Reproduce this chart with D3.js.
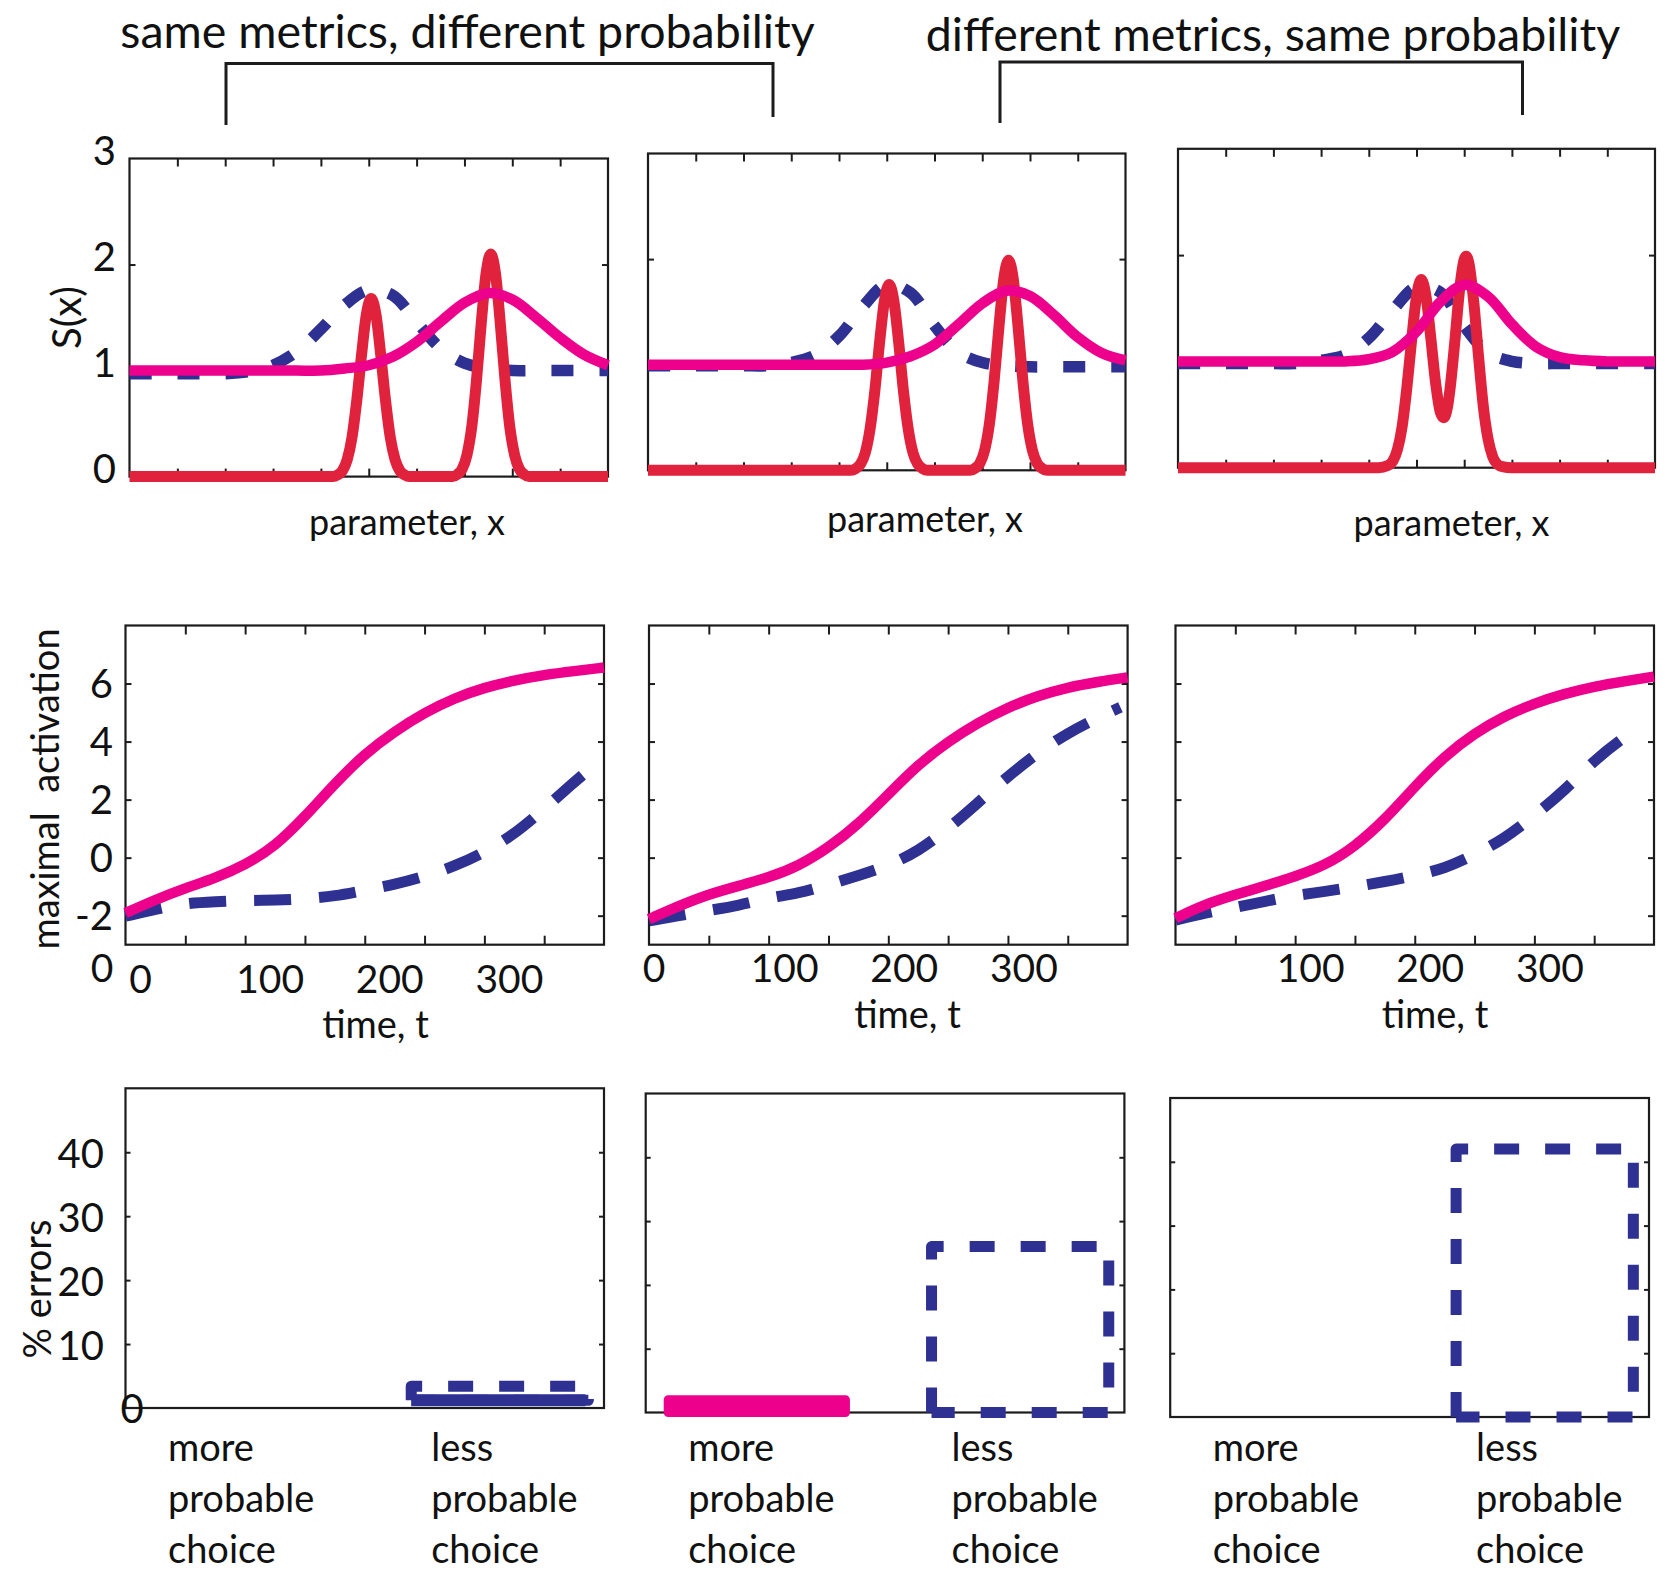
<!DOCTYPE html>
<html><head><meta charset="utf-8">
<script src="https://cdn.jsdelivr.net/npm/d3@7"></script>
<style>
html,body{margin:0;padding:0;background:#fff;}
svg text{font-family:Lato,"Open Sans",sans-serif;fill:#111;white-space:pre;}
</style></head><body>
<svg id="chart" width="1668" height="1570"></svg>
<script>
// ---------------- DATA ----------------
const titles = ["same metrics, different probability", "different metrics, same probability"];

// Row 1: S(x) over parameter x (0..100)
const paramX = [0,5,10,15,20,25,30,35,40,45,50,55,60,65,70,75,80,85,90,95,100];
const pinkA = [1.0,1.0,1.0,1.0,1.0,1.0,1.0,1.0,1.0,1.02,1.05,1.13,1.27,1.46,1.64,1.73,1.67,1.50,1.31,1.15,1.05];
const blueA = [0.97,0.97,0.97,0.97,0.97,0.99,1.05,1.18,1.39,1.62,1.76,1.71,1.46,1.21,1.07,1.02,1.0,1.0,1.0,1.0,1.0];
const pinkB = [1.0,1.0,1.0,1.0,1.0,1.0,1.0,1.0,1.0,1.0,1.02,1.08,1.19,1.38,1.58,1.70,1.65,1.47,1.26,1.11,1.04];
const blueB = [0.99,0.99,0.99,0.99,0.99,0.99,1.02,1.09,1.27,1.55,1.76,1.68,1.37,1.12,1.02,0.99,0.98,0.98,0.98,0.98,0.98];
const pinkC = [1.0,1.0,1.0,1.0,1.0,1.0,1.0,1.0,1.02,1.09,1.28,1.56,1.72,1.61,1.35,1.14,1.04,1.01,1.0,1.0,1.0];
const blueC = [0.98,0.98,0.98,0.98,0.98,0.98,1.01,1.06,1.22,1.48,1.70,1.65,1.33,1.08,1.0,0.98,0.98,0.98,0.98,0.98,0.98];

const redXAB = [0,10,20,30,40,42.5,43.5,44.5,45.5,46.5,47.5,48.5,49.5,50.5,51.5,52.5,53.5,54.5,55.5,56.5,57.5,58.5,63,
                67.5,68.5,69.5,70.5,71.5,72.5,73.5,74.5,75.5,76.5,77.5,78.5,79.5,80.5,81.5,82.5,83.5,90,100];
const redA = [0,0,0,0,0,0,0.016,0.055,0.16,0.37,0.72,1.15,1.53,1.68,1.53,1.15,0.72,0.37,0.16,0.055,0.016,0,0,
              0,0.02,0.07,0.20,0.46,0.90,1.44,1.91,2.10,1.91,1.44,0.90,0.46,0.20,0.07,0.02,0,0,0];
const redB = [0,0,0,0,0,0,0.017,0.058,0.165,0.39,0.75,1.21,1.60,1.76,1.60,1.21,0.75,0.39,0.165,0.058,0.017,0,0,
              0,0.019,0.066,0.19,0.44,0.85,1.36,1.81,1.99,1.81,1.36,0.85,0.44,0.19,0.066,0.019,0,0,0];
const redXC = [0,10,20,30,40,42,44,45,46,47,48,49,50,51,52,53,54,55,55.7,56.5,57,58,59,60,60.4,61,62,63,64,65,66,67,68,70,80,90,100];
const redC = [0,0,0,0,0,0,0.02,0.06,0.17,0.39,0.76,1.21,1.61,1.77,1.61,1.22,0.80,0.52,0.47,0.57,0.73,1.17,1.66,1.96,1.99,1.92,1.56,1.05,0.58,0.27,0.10,0.03,0.01,0,0,0,0];

const paramYTicks = [0,1,2,3];
const paramYLabels = ["0","1","2","3"];
const paramXTicks = [10,20,30,40,50,60,70,80,90];

// Row 2: maximal activation over time t (0..400)
const timeT  = [0,25,50,75,100,125,150,175,200,225,250,275,300,325,350,375,400];
const blueTD = [0,25,50,75,100,125,150,175,200,225,250,275,300,325,350,375,388];
const blueTE = [0,25,50,75,100,125,150,175,200,225,250,275,300,325,350,375,394];
const blueTF = [0,25,50,75,100,125,150,175,200,225,250,275,300,325,350,375,388];
const pinkD = [-1.91,-1.45,-1.05,-0.71,-0.25,0.38,1.41,2.55,3.58,4.35,5.0,5.5,5.86,6.11,6.3,6.43,6.55];
const blueD = [-2.02,-1.78,-1.57,-1.52,-1.47,-1.47,-1.42,-1.33,-1.12,-0.93,-0.65,-0.3,0.18,0.8,1.68,2.6,3.05];
const pinkE = [-2.12,-1.66,-1.26,-0.97,-0.69,-0.29,0.34,1.15,2.18,3.21,4.0,4.65,5.18,5.58,5.87,6.06,6.21];
const blueE = [-2.18,-2.0,-1.82,-1.65,-1.38,-1.23,-0.93,-0.62,-0.28,0.22,0.99,1.9,2.8,3.62,4.3,4.82,5.18];
const pinkF = [-2.09,-1.6,-1.28,-0.97,-0.65,-0.27,0.38,1.3,2.45,3.5,4.29,4.88,5.32,5.65,5.9,6.08,6.24];
const blueF = [-2.15,-1.9,-1.72,-1.5,-1.3,-1.17,-1.0,-0.83,-0.62,-0.38,0.1,0.65,1.45,2.3,3.36,4.15,4.5];
const actYTicks = [-2,0,2,4,6];
const timeXTicks = [50,100,150,200,250,300,350];
const timeLabelsD = [0,100,200,300];
const timeLabelsE = [0,100,200,300];
const timeLabelsF = [100,200,300];

// Row 3: % errors
const choices = ["more", "less"];
const choiceLines = [["more","probable","choice"],["less","probable","choice"]];
const errMore = [0, 2, 0];
const errLess = [3.4, 26, 42];
const lessBase = [1.2, 0, 0];
const errYTicks = [10,20,30,40];
const errYLabels = [0,10,20,30,40];

// ---------------- DRAWING ----------------
const INK = "#1c1c1c", RED = "#e1223d", PINK = "#ec008c", BLUE = "#2e3192";
const svg = d3.select("#chart");

function txt(str, x, y, size, anchor, rot) {
  const t = svg.append("text").text(str).attr("font-size", size).attr("text-anchor", anchor || "middle");
  if (rot) t.attr("transform", `translate(${x},${y}) rotate(${rot})`);
  else t.attr("x", x).attr("y", y);
  return t;
}
function frame(b) {
  svg.append("rect").attr("x", b[0]).attr("y", b[1]).attr("width", b[2]-b[0]).attr("height", b[3]-b[1])
    .attr("fill", "none").attr("stroke", INK).attr("stroke-width", 2.2);
}
function tickAxis(axis, tr, len) {
  svg.append("g").attr("transform", tr)
    .call(axis.tickSize(-len).tickFormat(""))
    .call(g => { g.select(".domain").remove(); g.selectAll(".tick line").attr("stroke", INK).attr("stroke-width", 2); });
}
function boxTicks(b, x, y, xt, yt, xl, yl) {
  if (xt) {
    tickAxis(d3.axisBottom(x).tickValues(xt), `translate(0,${b[3]})`, xl);
    tickAxis(d3.axisTop(x).tickValues(xt), `translate(0,${b[1]})`, xl);
  }
  if (yt) {
    tickAxis(d3.axisLeft(y).tickValues(yt), `translate(${b[0]},0)`, yl);
    tickAxis(d3.axisRight(y).tickValues(yt), `translate(${b[2]},0)`, yl);
  }
}

// Titles and brackets
txt(titles[0], 467.5, 48, 46.5);
txt(titles[1], 1273, 51, 46.5);
const bracket = (xa, xb, yh, ya, yb) => svg.append("path")
  .attr("d", `M${xa},${ya} V${yh} H${xb} V${yb}`).attr("fill", "none").attr("stroke", INK).attr("stroke-width", 3);
bracket(226, 773, 63.5, 125, 117);
bracket(1000, 1522.5, 62, 123, 115);

// ---- Row 1 ----
const row1 = [
  {b:[129.5,158.5,608,476.6], pink:pinkA, blue:blueA, rx:redXAB, red:redA, lab:[407,535], ylab:true},
  {b:[648,153.5,1125.5,470.3], pink:pinkB, blue:blueB, rx:redXAB, red:redB, lab:[925,532]},
  {b:[1178,148.8,1655,467.7], pink:pinkC, blue:blueC, rx:redXC, red:redC, lab:[1451.5,536]}
];
row1.forEach(p => {
  const b = p.b;
  const x = d3.scaleLinear().domain([0,100]).range([b[0], b[2]]);
  const y = d3.scaleLinear().domain([0,3]).range([b[3], b[1]]);
  frame(b);
  boxTicks(b, x, y, paramXTicks, [1,2], 8, 6);
  const smooth = d3.line().x(d => x(d[0])).y(d => y(d[1])).curve(d3.curveCatmullRom.alpha(0.5));
  const mono = d3.line().x(d => x(d[0])).y(d => y(d[1])).curve(d3.curveMonotoneX);
  svg.append("path").attr("d", smooth(d3.zip(paramX, p.blue))).attr("fill","none")
    .attr("stroke", BLUE).attr("stroke-width", 11.5).attr("stroke-dasharray", "22,26");
  svg.append("path").attr("d", mono(d3.zip(p.rx, p.red))).attr("fill","none")
    .attr("stroke", RED).attr("stroke-width", 11).attr("stroke-linejoin","round");
  svg.append("path").attr("d", smooth(d3.zip(paramX, p.pink))).attr("fill","none")
    .attr("stroke", PINK).attr("stroke-width", 10.5);
  txt("parameter, x", p.lab[0], p.lab[1], 36);
  if (p.ylab) {
    paramYTicks.forEach((v, i) => txt(paramYLabels[i], 116, y(v) + 6, 40, "end"));
    txt("S(x)", 81, y(1.5), 40, "middle", -90);
  }
});

// ---- Row 2 ----
const row2 = [
  {b:[125.5,625.5,604,944.7], pink:pinkD, bt:blueTD, blue:blueD, labs:timeLabelsD, shift:25, shift0:15, ly:993, tl:[375.5,1038], ylab:true},
  {b:[649,625.5,1127.6,944.7], pink:pinkE, bt:blueTE, blue:blueE, labs:timeLabelsE, shift:16, shift0:5, ly:982, tl:[907.5,1028]},
  {b:[1175.5,625.5,1654,944.7], pink:pinkF, bt:blueTF, blue:blueF, labs:timeLabelsF, shift:15.5, shift0:0, ly:982, tl:[1435,1028]}
];
row2.forEach(p => {
  const b = p.b;
  const x = d3.scaleLinear().domain([0,400]).range([b[0], b[2]]);
  const y = d3.scaleLinear().domain([-3,8]).range([b[3], b[1]]);
  frame(b);
  boxTicks(b, x, y, timeXTicks, actYTicks, 9, 6);
  const line = d3.line().x(d => x(d[0])).y(d => y(d[1])).curve(d3.curveBasis);
  svg.append("path").attr("d", line(d3.zip(p.bt, p.blue))).attr("fill","none")
    .attr("stroke", BLUE).attr("stroke-width", 11).attr("stroke-dasharray", "37,28");
  svg.append("path").attr("d", line(d3.zip(timeT, p.pink))).attr("fill","none")
    .attr("stroke", PINK).attr("stroke-width", 10.5);
  p.labs.forEach(v => txt(String(v), x(v) + (v === 0 ? p.shift0 : p.shift), p.ly, 39));
  txt("time, t", p.tl[0], p.tl[1], 38);
  if (p.ylab) {
    actYTicks.forEach(v => txt(String(v), 113, y(v) + 14, 40, "end"));
    txt("0", 102, 982, 39);
    txt("maximal  activation", 59, 789, 38, "middle", -90);
  }
});

// ---- Row 3 ----
const row3 = [
  {b:[125.5,1088.3,604,1408]},
  {b:[645.7,1093.5,1124.4,1412.5]},
  {b:[1170.2,1098,1649,1417]}
];
row3.forEach((p, i) => {
  const b = p.b;
  const x = d3.scaleBand().domain(choices).range([b[0], b[2]])
    .paddingInner(0.327).paddingOuter(0.0725).align(0.59);
  const y = d3.scaleLinear().domain([0,50]).range([b[3], b[1]]);
  frame(b);
  boxTicks(b, x, y, null, errYTicks, 0, 5);
  if (errMore[i] > 0) {
    svg.append("rect").attr("x", x("more")).attr("width", x.bandwidth())
      .attr("y", y(errMore[i])).attr("height", y(0) - y(errMore[i]))
      .attr("fill", PINK).attr("stroke", PINK).attr("stroke-width", 9).attr("stroke-linejoin", "round");
  }
  const x0 = x("less"), x1 = x0 + x.bandwidth();
  const yb = y(lessBase[i]), yt = y(errLess[i]);
  svg.append("path").attr("d", `M${x0},${yb} V${yt} H${x1} V${yb} H${x0}`)
    .attr("fill", "none").attr("stroke", BLUE).attr("stroke-width", 11)
    .attr("stroke-dasharray", "25,26").attr("stroke-linejoin", "round");
  if (lessBase[i] > 0) {
    svg.append("line").attr("x1", x0).attr("x2", x1 - 3).attr("y1", yb).attr("y2", yb)
      .attr("stroke", BLUE).attr("stroke-width", 12);
  }
  choices.forEach((c, k) => {
    choiceLines[k].forEach((w, j) => txt(w, x(c) + 20, 1461 + j * 51, 38, "start"));
  });
  if (i === 0) {
    errYLabels.forEach(v => {
      if (v === 0) txt("0", 132, y(0) + 15, 40);
      else txt(String(v), 104, y(v) + 16, 40, "end");
    });
    txt("% errors", 51, 1289, 38, "middle", -90);
  }
});
</script></body></html>
